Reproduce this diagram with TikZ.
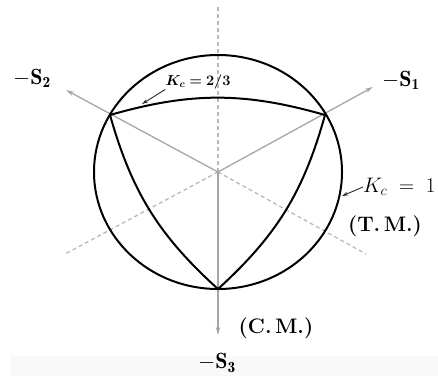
\RequirePackage{fix-cm}
\documentclass[tikz,border=0pt]{standalone}
\usepackage{fontspec}
\usepackage{bm}
\usetikzlibrary{arrows.meta}
\begin{document}
\begin{tikzpicture}[
        x=1pt, y=1pt,
        every node/.style={inner sep=0pt},
        axis/.style={draw=gray!70, line width=1.3pt, -{Stealth[length=8pt,width=4.5pt]}},
        guide/.style={draw=gray!55, line width=1.3pt, dash pattern=on 4pt off 3pt},
        rim/.style={draw=black, line width=2pt},
        leader/.style={draw=black!85, line width=0.9pt, -{Stealth[length=6pt,width=3.5pt]}},
        axlabel/.style={font=\fontsize{22}{24}\selectfont},
        kslabel/.style={font=\fontsize{14.5}{16}\selectfont},
        kblabel/.style={font=\fontsize{21}{23}\selectfont},
        mode/.style={font=\fontsize{21}{23}\selectfont\bfseries}
        ]

        \useasboundingbox (0,0) rectangle (438,376);
        % faint strip along the bottom edge
        \fill[gray!5] (10,0) rectangle (438,20);

        % centre, corners of the curved triangle, axis ends
        \coordinate (O) at (218,204);
        \coordinate (v1) at (325,261);
        \coordinate (v2) at (110,261);
        \coordinate (v3) at (218,87);
        \coordinate (e1) at (373,289);
        \coordinate (e2) at (66,286);
        \coordinate (e3) at (218,41);
        \coordinate (d0) at (218,371);
        \coordinate (d1) at (65,122);
        \coordinate (d2) at (366,122);

        % Dashed continuations of the axes
        \draw[guide] (O) -- (d0);
        \draw[guide] (O) -- (d1);
        \draw[guide] (O) -- (d2);

        % Principal axes
        \draw[axis] (O) -- (e1);
        \draw[axis] (O) -- (e2);
        \draw[axis] (O) -- (e3);

        % Outer circle and curved triangle
        \draw[rim] (O) ellipse [x radius=124, y radius=117];
        \draw[rim] (v2) to[bend left=16] (v1) to[bend left=16] (v3) to[bend left=16] (v2);

        % Axis labels
        \node[axlabel] (s1) at (401,296) {$-\mathbf{S}_{\mathbf{1}}$};
        \node[axlabel] (s2) at (32,298) {$-\mathbf{S}_{\mathbf{2}}$};
        \node[axlabel] (s3) at (217,13) {$-\mathbf{S}_{\mathbf{3}}$};

        % Curve labels with leaders
        \node[kslabel] (k23) at (198,294) {$\bm{K_c=2/3}$};
        \coordinate (t23) at (142,272);
        \draw[leader] (k23.south west) -- (t23);

        \node[kblabel, anchor=west] (k1) at (363,189) {$K_c\;=\;1$};
        \coordinate (t1) at (342,180);
        \draw[leader] (k1.west) -- (t1);

        % Mode labels
        \node[mode] (tm) at (385,150) {(T.\,M.)};
        \node[mode] (cm) at (276,48) {(C.\,M.)};

    \end{tikzpicture}
\end{document}
